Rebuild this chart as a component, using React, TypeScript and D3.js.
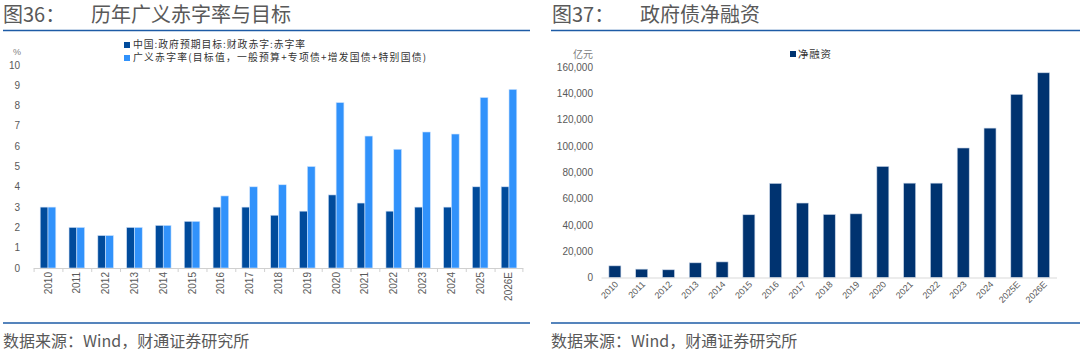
import React from "react";
import * as d3 from "d3";

const years = ["2010","2011","2012","2013","2014","2015","2016","2017","2018","2019","2020","2021","2022","2023","2024","2025","2026E"];
const targetDeficit = [3, 2, 1.6, 2, 2.1, 2.3, 3, 3, 2.6, 2.8, 3.6, 3.2, 2.8, 3, 3, 4, 4];
const broadDeficit = [3, 2, 1.6, 2, 2.1, 2.3, 3.55, 4.0, 4.1, 5.0, 8.15, 6.5, 5.85, 6.7, 6.6, 8.4, 8.8];
const leftTicks = [0, 1, 2, 3, 4, 5, 6, 7, 8, 9, 10];
const leftLegend = ["中国:政府预期目标:财政赤字:赤字率", "广义赤字率(目标值，一般预算+专项债+增发国债+特别国债)"];

const yearsR = ["2010","2011","2012","2013","2014","2015","2016","2017","2018","2019","2020","2021","2022","2023","2024","2025E","2026E"];
const netFinancing = [9000, 6500, 6000, 11300, 12000, 47800, 71600, 56700, 48000, 48500, 84500, 71800, 71800, 98500, 113600, 139200, 155600];
const rightTicks = [0, 20000, 40000, 60000, 80000, 100000, 120000, 140000, 160000];
const rightLegend = "净融资";

const DARK = "#004b9c";
const LIGHT = "#3192fb";
const NAVY = "#003370";
const GRAY = "#595959";
const LINE = "#1d5ba6";
const NUM_FONT = "'Liberation Sans', Arial, sans-serif";
const CJK_FONT = "'Noto Sans CJK SC', sans-serif";

export default function App() {
  // left chart scales
  const xL = d3.scaleBand<string>().domain(years).range([33.6, 523.4]);
  const yL = d3.scaleLinear().domain([0, 10]).range([268, 65]);
  const bw = 7.8;

  // right chart scales
  const xR = d3.scaleBand<string>().domain(yearsR).range([601.5, 1057]);
  const yR = d3.scaleLinear().domain([0, 160000]).range([277.7, 67]);
  const bwR = 12;
  const fmt = d3.format(",");

  return (
    <div style={{ position: "fixed", left: 0, top: 0 }}>
      <svg width={1080} height={355} style={{ display: "block", background: "#fff" }}>
        {/* titles */}
        <text x={3} y={22} fontFamily={CJK_FONT} fontSize={20} fill={GRAY}>图36：</text>
        <text x={91} y={22} fontFamily={CJK_FONT} fontSize={20} fill={GRAY}>历年广义赤字率与目标</text>
        <line x1={3} x2={530} y1={30.5} y2={30.5} stroke={LINE} strokeWidth={1.5} />
        <text x={552} y={22} fontFamily={CJK_FONT} fontSize={20} fill={GRAY}>图37：</text>
        <text x={640} y={22} fontFamily={CJK_FONT} fontSize={20} fill={GRAY}>政府债净融资</text>
        <line x1={551} x2={1080} y1={30.5} y2={30.5} stroke={LINE} strokeWidth={1.5} />

        {/* bottom lines & sources */}
        <line x1={3} x2={530} y1={323} y2={323} stroke={LINE} strokeWidth={1.5} />
        <line x1={551} x2={1080} y1={323} y2={323} stroke={LINE} strokeWidth={1.5} />
        <text x={3} y={347} fontFamily={CJK_FONT} fontSize={16} fill={GRAY}>数据来源：Wind，财通证券研究所</text>
        <text x={551} y={347} fontFamily={CJK_FONT} fontSize={16} fill={GRAY}>数据来源：Wind，财通证券研究所</text>

        {/* LEFT CHART */}
        <text x={17} y={55} textAnchor="middle" fontFamily={NUM_FONT} fontSize={9} fill="#7f7f7f">%</text>
        {leftTicks.map((t) => (
          <text key={t} x={20} y={yL(t) + 3.5} textAnchor="end" fontFamily={NUM_FONT} fontSize={10} fill={GRAY}>{t}</text>
        ))}
        {years.map((yr, i) => {
          const c = (xL(yr) as number) + xL.bandwidth() / 2;
          return (
            <g key={yr}>
              <rect x={c - bw} y={yL(targetDeficit[i])} width={bw} height={yL(0) - yL(targetDeficit[i])} fill={DARK} stroke="#cfe0f7" strokeWidth={0.6} />
              <rect x={c} y={yL(broadDeficit[i])} width={bw} height={yL(0) - yL(broadDeficit[i])} fill={LIGHT} stroke="#cfe4fd" strokeWidth={0.6} />
              <text transform={`translate(${c + 3.5},${272}) rotate(-90)`} textAnchor="end" fontFamily={NUM_FONT} fontSize={10} fill={GRAY}>{yr}</text>
            </g>
          );
        })}
        <line x1={xL.range()[0]} x2={xL.range()[1]} y1={268.5} y2={268.5} stroke="#d0d0d0" strokeWidth={1} />
        {years.map((yr) => (
          <line key={"t" + yr} x1={(xL(yr) as number) + 0.5} x2={(xL(yr) as number) + 0.5} y1={268.5} y2={272} stroke="#d0d0d0" strokeWidth={1} />
        ))}
        <line x1={xL.range()[1] - 0.5} x2={xL.range()[1] - 0.5} y1={268.5} y2={272} stroke="#d0d0d0" strokeWidth={1} />
        {leftLegend.map((lab, i) => (
          <g key={lab}>
            <rect x={124} y={42 + i * 13} width={6} height={6} fill={i === 0 ? DARK : LIGHT} />
            <text x={133} y={48.3 + i * 13} fontFamily={CJK_FONT} fontSize={9.8} letterSpacing={i === 0 ? 1.0 : 1.25} fill="#333">{lab}</text>
          </g>
        ))}

        {/* RIGHT CHART */}
        <text x={593} y={58} textAnchor="end" fontFamily={CJK_FONT} fontSize={10} fill="#7f7f7f">亿元</text>
        {rightTicks.map((t) => (
          <text key={t} x={593} y={yR(t) + 3.5} textAnchor="end" fontFamily={NUM_FONT} fontSize={10} fill={GRAY}>{fmt(t)}</text>
        ))}
        {yearsR.map((yr, i) => {
          const c = (xR(yr) as number) + xR.bandwidth() / 2;
          return (
            <g key={yr}>
              <rect x={c - bwR / 2} y={yR(netFinancing[i])} width={bwR} height={yR(0) - yR(netFinancing[i])} fill={NAVY} stroke="#c9d6e8" strokeWidth={0.6} />
              <text transform={`translate(${c + 4},${285}) rotate(-45)`} textAnchor="end" fontFamily={NUM_FONT} fontSize={9} fill={GRAY}>{yr}</text>
            </g>
          );
        })}
        <line x1={xR.range()[0]} x2={xR.range()[1]} y1={278} y2={278} stroke="#d9d9d9" strokeWidth={1} />
        <rect x={790} y={51} width={6} height={6} fill={NAVY} />
        <text x={798} y={57.5} fontFamily={CJK_FONT} fontSize={10.5} letterSpacing={0.7} fill="#333">{rightLegend}</text>
      </svg>
    </div>
  );
}
